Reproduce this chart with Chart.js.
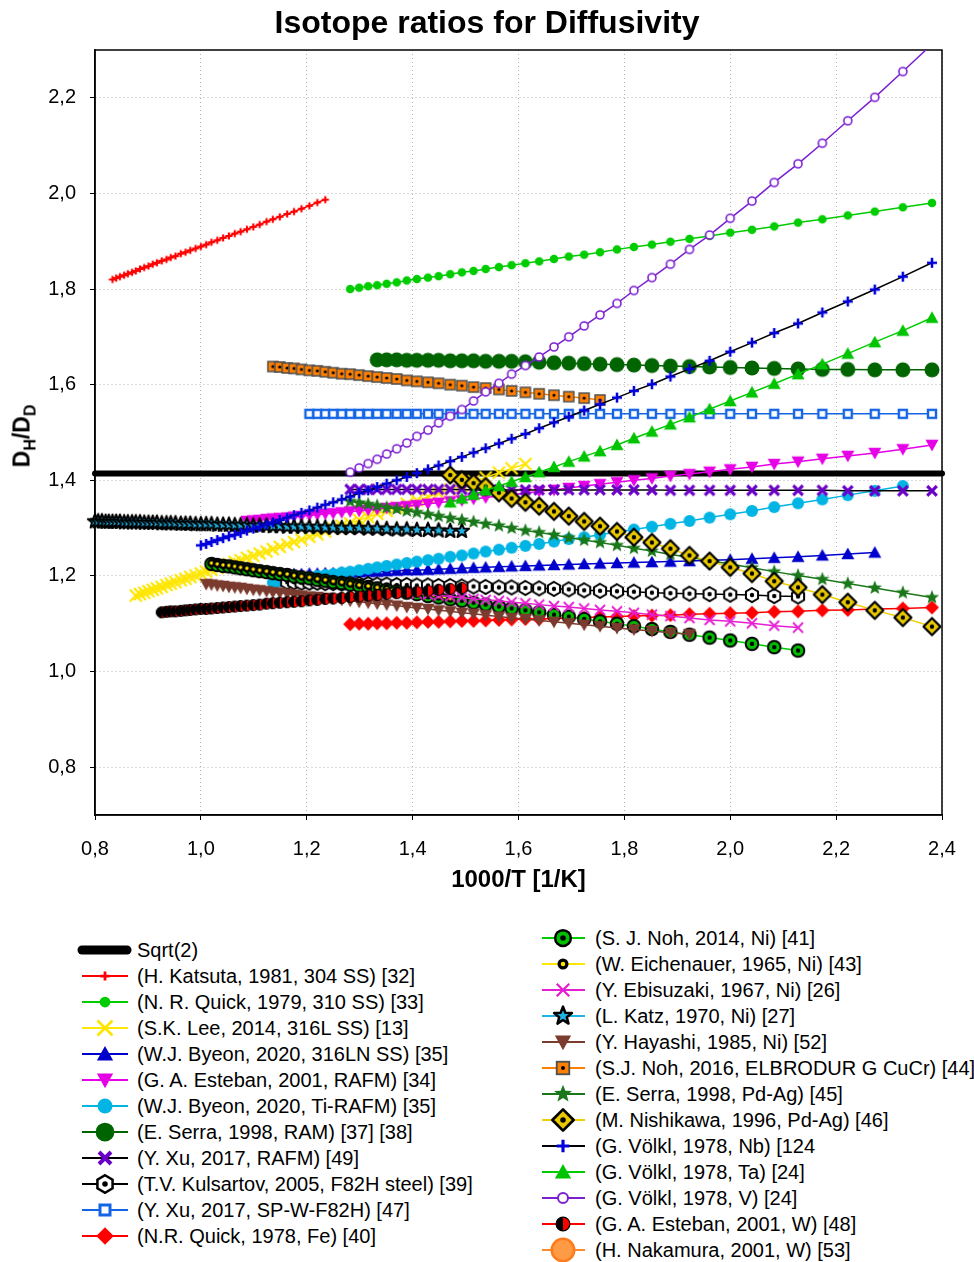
<!DOCTYPE html>
<html><head><meta charset="utf-8">
<script src="https://cdn.jsdelivr.net/npm/chart.js@4.4.1/dist/chart.umd.min.js"></script>
<style>
html,body{margin:0;padding:0;background:#fff;width:974px;height:1262px;overflow:hidden;font-family:Arial,"Liberation Sans",sans-serif;}
#wrap{position:relative;width:974px;height:1262px;}
#c{position:absolute;left:0;top:0;}
#title{position:absolute;left:0;width:974px;top:3px;height:38px;line-height:38px;text-align:center;font-weight:bold;font-size:32px;color:#000;white-space:nowrap;}
#ytitle{position:absolute;left:24px;top:436px;transform:translate(-50%,-50%) rotate(-90deg);font-weight:bold;font-size:23px;white-space:nowrap;color:#000;}
#ytitle sub{font-size:16px;vertical-align:-6px;}
.lg{position:absolute;height:26px;line-height:26px;font-size:20px;white-space:nowrap;color:#000;}
.lg canvas{position:absolute;left:0;top:0;}
.lg span{position:absolute;left:62px;top:0;}
</style></head>
<body><div id="wrap">
<canvas id="c" width="974" height="905"></canvas>
<div id="title">Isotope ratios for Diffusivity</div>
<div id="ytitle">D<sub>H</sub>/D<sub>D</sub></div>
<div id="legend"></div>
</div>
<script>
// ---------- axis ticks ----------
const xTicks = [0.8,1.0,1.2,1.4,1.6,1.8,2.0,2.2,2.4];
const yTicks = [0.8,1.0,1.2,1.4,1.6,1.8,2.0,2.2];

// ---------- series values ----------
const xSqrt2 = [0.8,2.4];
const ySqrt2 = [1.414,1.414];

const xKatsuta = [0.833,0.840,0.847,0.855,0.862,0.870,0.877,0.885,0.893,0.901,0.909,0.917,0.926,0.935,0.943,0.952,0.962,0.971,0.980,0.990,1.000,1.010,1.020,1.031,1.042,1.053,1.064,1.075,1.087,1.099,1.111,1.124,1.136,1.149,1.163,1.176,1.190,1.205,1.220,1.235];
const yKatsuta = [1.820,1.823,1.826,1.829,1.832,1.835,1.838,1.842,1.845,1.848,1.852,1.855,1.859,1.862,1.866,1.869,1.874,1.877,1.881,1.885,1.889,1.893,1.898,1.902,1.907,1.911,1.916,1.920,1.925,1.930,1.935,1.941,1.946,1.951,1.957,1.962,1.968,1.974,1.981,1.987];

const xQuick1979 = [1.282,1.299,1.316,1.333,1.351,1.370,1.389,1.408,1.429,1.449,1.471,1.493,1.515,1.538,1.563,1.587,1.613,1.639,1.667,1.695,1.724,1.754,1.786,1.818,1.852,1.887,1.923,1.961,2.000,2.041,2.083,2.128,2.174,2.222,2.273,2.326,2.381];
const yQuick1979 = [1.800,1.803,1.806,1.808,1.811,1.814,1.818,1.821,1.824,1.827,1.831,1.835,1.838,1.842,1.846,1.850,1.854,1.858,1.863,1.868,1.872,1.877,1.883,1.888,1.893,1.899,1.905,1.911,1.918,1.924,1.931,1.939,1.946,1.954,1.962,1.971,1.980];

const xLee = [0.877,0.885,0.893,0.901,0.909,0.917,0.926,0.935,0.943,0.952,0.962,0.971,0.980,0.990,1.000,1.010,1.020,1.031,1.042,1.053,1.064,1.075,1.087,1.099,1.111,1.124,1.136,1.149,1.163,1.176,1.190,1.205,1.220,1.235,1.250,1.266,1.282,1.299,1.316,1.333,1.351,1.370,1.389,1.408,1.429,1.449,1.471,1.493,1.515,1.538,1.563,1.587,1.613];
const yLee = [1.159,1.162,1.165,1.168,1.171,1.174,1.177,1.181,1.184,1.187,1.191,1.194,1.198,1.201,1.205,1.209,1.213,1.217,1.221,1.225,1.229,1.233,1.238,1.242,1.247,1.251,1.256,1.261,1.266,1.271,1.276,1.282,1.287,1.293,1.299,1.305,1.310,1.317,1.323,1.330,1.336,1.343,1.351,1.358,1.365,1.373,1.381,1.389,1.398,1.406,1.416,1.425,1.434];

const xByeonLN = [1.176,1.190,1.205,1.220,1.235,1.250,1.266,1.282,1.299,1.316,1.333,1.351,1.370,1.389,1.408,1.429,1.449,1.471,1.493,1.515,1.538,1.563,1.587,1.613,1.639,1.667,1.695,1.724,1.754,1.786,1.818,1.852,1.887,1.923,1.961,2.000,2.041,2.083,2.128,2.174,2.222,2.273];
const yByeonLN = [1.204,1.204,1.205,1.205,1.206,1.206,1.207,1.207,1.208,1.209,1.209,1.210,1.211,1.212,1.212,1.213,1.214,1.215,1.216,1.217,1.218,1.219,1.220,1.221,1.222,1.223,1.224,1.225,1.226,1.227,1.228,1.229,1.230,1.231,1.233,1.234,1.236,1.238,1.240,1.243,1.246,1.249];

const xEstebanRAFM = [1.087,1.099,1.111,1.124,1.136,1.149,1.163,1.176,1.190,1.205,1.220,1.235,1.250,1.266,1.282,1.299,1.316,1.333,1.351,1.370,1.389,1.408,1.429,1.449,1.471,1.493,1.515,1.538,1.563,1.587,1.613,1.639,1.667,1.695,1.724,1.754,1.786,1.818,1.852,1.887,1.923,1.961,2.000,2.041,2.083,2.128,2.174,2.222,2.273,2.326,2.381];
const yEstebanRAFM = [1.315,1.316,1.317,1.319,1.320,1.321,1.322,1.324,1.325,1.327,1.328,1.330,1.331,1.333,1.335,1.336,1.338,1.340,1.342,1.344,1.346,1.348,1.351,1.353,1.356,1.358,1.361,1.364,1.367,1.370,1.373,1.377,1.380,1.384,1.388,1.392,1.396,1.400,1.404,1.409,1.413,1.418,1.423,1.428,1.434,1.439,1.445,1.451,1.457,1.465,1.474];

const xByeonTi = [1.136,1.149,1.163,1.176,1.190,1.205,1.220,1.235,1.250,1.266,1.282,1.299,1.316,1.333,1.351,1.370,1.389,1.408,1.429,1.449,1.471,1.493,1.515,1.538,1.563,1.587,1.613,1.639,1.667,1.695,1.724,1.754,1.786,1.818,1.852,1.887,1.923,1.961,2.000,2.041,2.083,2.128,2.174,2.222,2.273,2.326];
const yByeonTi = [1.186,1.188,1.190,1.192,1.195,1.197,1.200,1.202,1.204,1.207,1.209,1.212,1.215,1.218,1.221,1.224,1.227,1.230,1.233,1.236,1.240,1.243,1.247,1.251,1.255,1.259,1.263,1.267,1.272,1.277,1.281,1.286,1.292,1.297,1.303,1.309,1.315,1.322,1.329,1.336,1.344,1.352,1.360,1.369,1.378,1.388];

const xSerraRAM = [1.333,1.351,1.370,1.389,1.408,1.429,1.449,1.471,1.493,1.515,1.538,1.563,1.587,1.613,1.639,1.667,1.695,1.724,1.754,1.786,1.818,1.852,1.887,1.923,1.961,2.000,2.041,2.083,2.128,2.174,2.222,2.273,2.326,2.381];
const ySerraRAM = [1.652,1.652,1.652,1.651,1.651,1.651,1.651,1.650,1.650,1.650,1.649,1.649,1.649,1.648,1.647,1.646,1.645,1.644,1.643,1.642,1.641,1.640,1.639,1.638,1.637,1.636,1.635,1.634,1.633,1.632,1.632,1.631,1.631,1.631];

const xXuRAFM = [1.282,1.299,1.316,1.333,1.351,1.370,1.389,1.408,1.429,1.449,1.471,1.493,1.515,1.538,1.563,1.587,1.613,1.639,1.667,1.695,1.724,1.754,1.786,1.818,1.852,1.887,1.923,1.961,2.000,2.041,2.083,2.128,2.174,2.222,2.273,2.326,2.381];
const yXuRAFM = [1.381,1.381,1.381,1.381,1.381,1.381,1.381,1.381,1.381,1.381,1.381,1.381,1.380,1.380,1.380,1.380,1.380,1.380,1.380,1.380,1.380,1.380,1.380,1.380,1.380,1.379,1.379,1.379,1.379,1.379,1.379,1.379,1.379,1.378,1.378,1.378,1.378];

const xKulsartov = [1.163,1.176,1.190,1.205,1.220,1.235,1.250,1.266,1.282,1.299,1.316,1.333,1.351,1.370,1.389,1.408,1.429,1.449,1.471,1.493,1.515,1.538,1.563,1.587,1.613,1.639,1.667,1.695,1.724,1.754,1.786,1.818,1.852,1.887,1.923,1.961,2.000,2.041,2.083,2.128];
const yKulsartov = [1.187,1.187,1.186,1.186,1.186,1.185,1.185,1.184,1.184,1.183,1.183,1.182,1.182,1.181,1.181,1.180,1.180,1.179,1.179,1.178,1.178,1.177,1.176,1.176,1.175,1.174,1.173,1.172,1.170,1.169,1.168,1.167,1.165,1.164,1.163,1.162,1.161,1.160,1.158,1.157];

const xXuSP = [1.205,1.220,1.235,1.250,1.266,1.282,1.299,1.316,1.333,1.351,1.370,1.389,1.408,1.429,1.449,1.471,1.493,1.515,1.538,1.563,1.587,1.613,1.639,1.667,1.695,1.724,1.754,1.786,1.818,1.852,1.887,1.923,1.961,2.000,2.041,2.083,2.128,2.174,2.222,2.273,2.326,2.381];
const yXuSP = [1.539,1.539,1.539,1.539,1.539,1.539,1.539,1.539,1.539,1.539,1.539,1.539,1.539,1.539,1.539,1.539,1.539,1.539,1.539,1.539,1.539,1.539,1.539,1.539,1.539,1.539,1.539,1.539,1.539,1.539,1.539,1.539,1.539,1.539,1.539,1.539,1.539,1.539,1.539,1.539,1.539,1.539];

const xQuickFe = [1.282,1.299,1.316,1.333,1.351,1.370,1.389,1.408,1.429,1.449,1.471,1.493,1.515,1.538,1.563,1.587,1.613,1.639,1.667,1.695,1.724,1.754,1.786,1.818,1.852,1.887,1.923,1.961,2.000,2.041,2.083,2.128,2.174,2.222,2.273,2.326,2.381];
const yQuickFe = [1.099,1.100,1.100,1.101,1.101,1.102,1.102,1.103,1.104,1.104,1.105,1.106,1.106,1.107,1.108,1.109,1.110,1.110,1.111,1.112,1.113,1.114,1.115,1.116,1.117,1.118,1.120,1.121,1.122,1.123,1.125,1.126,1.128,1.129,1.131,1.132,1.134];

const xNoh2014 = [1.020,1.031,1.042,1.053,1.064,1.075,1.087,1.099,1.111,1.124,1.136,1.149,1.163,1.176,1.190,1.205,1.220,1.235,1.250,1.266,1.282,1.299,1.316,1.333,1.351,1.370,1.389,1.408,1.429,1.449,1.471,1.493,1.515,1.538,1.563,1.587,1.613,1.639,1.667,1.695,1.724,1.754,1.786,1.818,1.852,1.887,1.923,1.961,2.000,2.041,2.083,2.128];
const yNoh2014 = [1.225,1.223,1.221,1.220,1.218,1.216,1.214,1.212,1.210,1.208,1.206,1.204,1.202,1.199,1.197,1.195,1.192,1.190,1.187,1.185,1.182,1.179,1.177,1.174,1.171,1.168,1.165,1.162,1.158,1.155,1.151,1.148,1.144,1.140,1.136,1.132,1.128,1.124,1.119,1.115,1.110,1.105,1.100,1.095,1.089,1.083,1.077,1.071,1.065,1.058,1.051,1.044];

const xEichenauer = [1.020,1.031,1.042,1.053,1.064,1.075,1.087,1.099,1.111,1.124,1.136,1.149,1.163,1.176,1.190,1.205,1.220,1.235,1.250,1.266,1.282,1.299,1.316,1.333,1.351,1.370,1.389,1.408,1.429,1.449,1.471];
const yEichenauer = [1.227,1.225,1.223,1.222,1.220,1.218,1.216,1.214,1.212,1.210,1.208,1.206,1.204,1.201,1.199,1.197,1.194,1.192,1.189,1.187,1.184,1.181,1.179,1.176,1.173,1.170,1.167,1.164,1.160,1.157,1.153];

const xEbisuzaki = [1.408,1.429,1.449,1.471,1.493,1.515,1.538,1.563,1.587,1.613,1.639,1.667,1.695,1.724,1.754,1.786,1.818,1.852,1.887,1.923,1.961,2.000,2.041,2.083,2.128];
const yEbisuzaki = [1.163,1.161,1.159,1.157,1.155,1.152,1.150,1.148,1.145,1.143,1.140,1.137,1.135,1.132,1.129,1.126,1.123,1.119,1.116,1.112,1.108,1.105,1.101,1.096,1.092];

const xKatz = [0.800,0.806,0.813,0.820,0.826,0.833,0.840,0.847,0.855,0.862,0.870,0.877,0.885,0.893,0.901,0.909,0.917,0.926,0.935,0.943,0.952,0.962,0.971,0.980,0.990,1.000,1.010,1.020,1.031,1.042,1.053,1.064,1.075,1.087,1.099,1.111,1.124,1.136,1.149,1.163,1.176,1.190,1.205,1.220,1.235,1.250,1.266,1.282,1.299,1.316,1.333,1.351,1.370,1.389,1.408,1.429,1.449,1.471,1.493];
const yKatz = [1.314,1.314,1.314,1.313,1.313,1.313,1.313,1.313,1.312,1.312,1.312,1.312,1.312,1.311,1.311,1.311,1.311,1.310,1.310,1.310,1.310,1.309,1.309,1.309,1.308,1.308,1.308,1.308,1.307,1.307,1.307,1.306,1.306,1.306,1.305,1.305,1.305,1.304,1.304,1.303,1.303,1.303,1.302,1.302,1.301,1.301,1.300,1.300,1.300,1.299,1.299,1.298,1.297,1.297,1.296,1.296,1.295,1.294,1.294];

const xHayashi = [1.010,1.020,1.031,1.042,1.053,1.064,1.075,1.087,1.099,1.111,1.124,1.136,1.149,1.163,1.176,1.190,1.205,1.220,1.235,1.250,1.266,1.282,1.299,1.316,1.333,1.351,1.370,1.389,1.408,1.429,1.449,1.471,1.493,1.515,1.538,1.563,1.587,1.613,1.639,1.667,1.695,1.724,1.754,1.786,1.818,1.852,1.887,1.923];
const yHayashi = [1.183,1.182,1.180,1.179,1.177,1.176,1.175,1.173,1.171,1.170,1.168,1.166,1.165,1.163,1.161,1.159,1.157,1.156,1.154,1.152,1.150,1.148,1.146,1.144,1.142,1.140,1.138,1.135,1.133,1.131,1.128,1.126,1.123,1.121,1.118,1.115,1.112,1.110,1.107,1.104,1.101,1.098,1.095,1.091,1.088,1.085,1.081,1.078];

const xNoh2016 = [1.136,1.149,1.163,1.176,1.190,1.205,1.220,1.235,1.250,1.266,1.282,1.299,1.316,1.333,1.351,1.370,1.389,1.408,1.429,1.449,1.471,1.493,1.515,1.538,1.563,1.587,1.613,1.639,1.667,1.695,1.724,1.754];
const yNoh2016 = [1.638,1.637,1.635,1.634,1.632,1.630,1.629,1.627,1.625,1.623,1.622,1.620,1.618,1.616,1.614,1.612,1.609,1.607,1.605,1.603,1.600,1.598,1.595,1.593,1.590,1.587,1.584,1.581,1.578,1.575,1.572,1.568];

const xSerraPdAg = [1.282,1.299,1.316,1.333,1.351,1.370,1.389,1.408,1.429,1.449,1.471,1.493,1.515,1.538,1.563,1.587,1.613,1.639,1.667,1.695,1.724,1.754,1.786,1.818,1.852,1.887,1.923,1.961,2.000,2.041,2.083,2.128,2.174,2.222,2.273,2.326,2.381];
const ySerraPdAg = [1.356,1.353,1.350,1.347,1.343,1.340,1.336,1.333,1.329,1.325,1.321,1.317,1.313,1.309,1.305,1.300,1.295,1.291,1.286,1.280,1.275,1.270,1.264,1.258,1.252,1.245,1.239,1.232,1.225,1.217,1.209,1.201,1.193,1.184,1.175,1.165,1.155];

const xNishikawa = [1.471,1.493,1.515,1.538,1.563,1.587,1.613,1.639,1.667,1.695,1.724,1.754,1.786,1.818,1.852,1.887,1.923,1.961,2.000,2.041,2.083,2.128,2.174,2.222,2.273,2.326,2.381];
const yNishikawa = [1.411,1.401,1.394,1.387,1.374,1.362,1.354,1.346,1.335,1.325,1.314,1.304,1.293,1.281,1.270,1.257,1.243,1.231,1.218,1.205,1.189,1.176,1.161,1.145,1.128,1.113,1.094];

const xVolklNb = [1.000,1.010,1.020,1.031,1.042,1.053,1.064,1.075,1.087,1.099,1.111,1.124,1.136,1.149,1.163,1.176,1.190,1.205,1.220,1.235,1.250,1.266,1.282,1.299,1.316,1.333,1.351,1.370,1.389,1.408,1.429,1.449,1.471,1.493,1.515,1.538,1.563,1.587,1.613,1.639,1.667,1.695,1.724,1.754,1.786,1.818,1.852,1.887,1.923,1.961,2.000,2.041,2.083,2.128,2.174,2.222,2.273,2.326,2.381];
const yVolklNb = [1.264,1.267,1.271,1.275,1.279,1.283,1.286,1.290,1.295,1.299,1.303,1.308,1.312,1.317,1.322,1.327,1.332,1.337,1.343,1.349,1.354,1.360,1.366,1.373,1.379,1.386,1.393,1.400,1.407,1.415,1.423,1.431,1.440,1.449,1.458,1.467,1.477,1.487,1.497,1.509,1.521,1.533,1.546,1.559,1.573,1.587,1.601,1.617,1.633,1.650,1.669,1.688,1.708,1.728,1.751,1.774,1.799,1.826,1.855];

const xVolklTa = [1.471,1.493,1.515,1.538,1.563,1.587,1.613,1.639,1.667,1.695,1.724,1.754,1.786,1.818,1.852,1.887,1.923,1.961,2.000,2.041,2.083,2.128,2.174,2.222,2.273,2.326,2.381];
const yVolklTa = [1.354,1.362,1.370,1.379,1.388,1.397,1.407,1.417,1.428,1.439,1.450,1.461,1.474,1.488,1.502,1.517,1.532,1.549,1.566,1.584,1.602,1.622,1.643,1.665,1.689,1.713,1.740];

const xVolklV = [1.282,1.299,1.316,1.333,1.351,1.370,1.389,1.408,1.429,1.449,1.471,1.493,1.515,1.538,1.563,1.587,1.613,1.639,1.667,1.695,1.724,1.754,1.786,1.818,1.852,1.887,1.923,1.961,2.000,2.041,2.083,2.128,2.174,2.222,2.273,2.326,2.381];
const yVolklV = [1.417,1.426,1.435,1.444,1.455,1.466,1.478,1.492,1.505,1.520,1.534,1.548,1.566,1.585,1.603,1.622,1.640,1.658,1.679,1.700,1.723,1.746,1.770,1.797,1.824,1.852,1.883,1.913,1.948,1.984,2.023,2.062,2.105,2.152,2.201,2.255,2.312];

const xEstebanW = [0.926,0.935,0.943,0.952,0.962,0.971,0.980,0.990,1.000,1.010,1.020,1.031,1.042,1.053,1.064,1.075,1.087,1.099,1.111,1.124,1.136,1.149,1.163,1.176,1.190,1.205,1.220,1.235,1.250,1.266,1.282,1.299,1.316,1.333,1.351,1.370,1.389,1.408,1.429,1.449,1.471,1.493];
const yEstebanW = [1.124,1.125,1.126,1.126,1.127,1.128,1.129,1.130,1.131,1.131,1.132,1.133,1.134,1.135,1.136,1.137,1.138,1.139,1.140,1.142,1.143,1.144,1.145,1.146,1.147,1.149,1.150,1.152,1.153,1.154,1.156,1.157,1.159,1.160,1.162,1.164,1.165,1.167,1.169,1.171,1.173,1.175];

const xNakamura = [];
const yNakamura = [];

// ---------- marker glyphs ----------
function circ(g,r,c){g.beginPath();g.arc(0,0,r,0,Math.PI*2);g.fillStyle=c;g.fill();}
function dot(g,r,c){circ(g,r,c);}
function xmark(g,a,c,w){g.strokeStyle=c;g.lineWidth=w;g.lineCap='butt';g.beginPath();g.moveTo(-a,-a);g.lineTo(a,a);g.moveTo(a,-a);g.lineTo(-a,a);g.stroke();}
function plus(g,a,c,w){g.strokeStyle=c;g.lineWidth=w;g.beginPath();g.moveTo(-a,0);g.lineTo(a,0);g.moveTo(0,-a);g.lineTo(0,a);g.stroke();}
function tri(g,r,c,down){const k=down?-1:1;g.beginPath();g.moveTo(0,-r*k);g.lineTo(r,0.8*r*k);g.lineTo(-r,0.8*r*k);g.closePath();g.fillStyle=c;g.fill();}
function poly(g,n,R){g.beginPath();for(let i=0;i<n;i++){const a=-Math.PI/2+i*2*Math.PI/n;g.lineTo(R*Math.cos(a),R*Math.sin(a));}g.closePath();}
function star(g,R,r){g.beginPath();for(let i=0;i<10;i++){const a=-Math.PI/2+i*Math.PI/5;const q=i%2?r:R;g.lineTo(q*Math.cos(a),q*Math.sin(a));}g.closePath();}
const MK = {
  none:(g,s)=>{},
  katsuta:(g,s)=>{plus(g,3.6*s,'#ff0000',2.2*s);},
  quick79:(g,s)=>{circ(g,4.3*s,'#00cc00');},
  lee:(g,s)=>{xmark(g,6*s,'#ffe600',2.2*s);},
  byeonLN:(g,s)=>{tri(g,6.5*s,'#0000cc',false);},
  estebanRAFM:(g,s)=>{tri(g,6.5*s,'#e600e6',true);},
  byeonTi:(g,s)=>{circ(g,6*s,'#00b4e4');},
  serraRAM:(g,s)=>{circ(g,7.5*s,'#006400');},
  xuRAFM:(g,s)=>{xmark(g,4.8*s,'#6a00c8',3.2*s);},
  kuls:(g,s)=>{poly(g,6,7*s);g.fillStyle='#fff';g.fill();g.strokeStyle='#000';g.lineWidth=2*s;g.stroke();dot(g,2.2*s,'#000');},
  xuSP:(g,s)=>{const h=4*s;g.fillStyle='#fff';g.fillRect(-h,-h,2*h,2*h);g.strokeStyle='#1464e6';g.lineWidth=2.4*s;g.strokeRect(-h,-h,2*h,2*h);},
  quickFe:(g,s)=>{poly(g,4,7*s);g.fillStyle='#ff0000';g.fill();},
  noh14:(g,s)=>{g.beginPath();g.arc(0,0,6.3*s,0,Math.PI*2);g.fillStyle='#00c000';g.fill();g.strokeStyle='#000';g.lineWidth=2*s;g.stroke();dot(g,2.2*s,'#000');},
  eich:(g,s)=>{dot(g,4.4*s,'#000');dot(g,1.8*s,'#ffe600');},
  ebis:(g,s)=>{xmark(g,5*s,'#e61ed2',1.8*s);},
  katz:(g,s)=>{star(g,7.5*s,3.2*s);g.fillStyle='#20b4e6';g.fill();g.strokeStyle='#000';g.lineJoin='round';g.lineWidth=2*s;g.stroke();},
  hayashi:(g,s)=>{tri(g,6.5*s,'#7b3b2e',true);},
  noh16:(g,s)=>{const h=5*s;g.fillStyle='#ff7f00';g.fillRect(-h,-h,2*h,2*h);g.strokeStyle='#505050';g.lineWidth=1.5*s;g.strokeRect(-h,-h,2*h,2*h);dot(g,1.6*s,'#000');},
  serraPd:(g,s)=>{star(g,7.5*s,3.2*s);g.fillStyle='#1a781a';g.fill();},
  nishi:(g,s)=>{poly(g,4,8.5*s);g.fillStyle='#e8c800';g.fill();g.strokeStyle='#000';g.lineJoin='round';g.lineWidth=2.2*s;g.stroke();dot(g,2.2*s,'#000');},
  nb:(g,s)=>{plus(g,5*s,'#0000dd',2.5*s);},
  ta:(g,s)=>{tri(g,6.5*s,'#00c400',false);},
  v:(g,s)=>{g.beginPath();g.arc(0,0,4*s,0,Math.PI*2);g.fillStyle='#fff';g.fill();g.strokeStyle='#7a1fd2';g.lineWidth=1.6*s;g.stroke();},
  estW:(g,s)=>{const r=5.5*s;circ(g,r,'#ff0000');g.beginPath();g.arc(0,0,r,Math.PI/2,Math.PI*1.5);g.closePath();g.fillStyle='#000';g.fill();g.beginPath();g.arc(0,0,r,0,Math.PI*2);g.strokeStyle='#000';g.lineWidth=1*s;g.stroke();},
  naka:(g,s)=>{g.beginPath();g.arc(0,0,9*s,0,Math.PI*2);g.fillStyle='#ff9a45';g.fill();g.strokeStyle='#ff7a1a';g.lineWidth=2*s;g.stroke();}
};
function markerCanvas(key,s){const size=Math.ceil(26*s);const c=document.createElement('canvas');c.width=c.height=size;const g=c.getContext('2d');g.translate(size/2,size/2);MK[key](g,s);return c;}

// ---------- series table ----------
const series = [
  {label:'Sqrt(2)', x:xSqrt2, y:ySqrt2, line:'#000000', mk:'none', w:6},
  {label:'(H. Katsuta, 1981, 304 SS) [32]', x:xKatsuta, y:yKatsuta, line:'#ff0000', mk:'katsuta'},
  {label:'(N. R. Quick, 1979, 310 SS) [33]', x:xQuick1979, y:yQuick1979, line:'#00cc00', mk:'quick79'},
  {label:'(S.K. Lee, 2014, 316L SS) [13]', x:xLee, y:yLee, line:'#ffe600', mk:'lee'},
  {label:'(W.J. Byeon, 2020, 316LN SS) [35]', x:xByeonLN, y:yByeonLN, line:'#0000cc', mk:'byeonLN'},
  {label:'(G. A. Esteban, 2001, RAFM) [34]', x:xEstebanRAFM, y:yEstebanRAFM, line:'#e600e6', mk:'estebanRAFM'},
  {label:'(W.J. Byeon, 2020, Ti-RAFM) [35]', x:xByeonTi, y:yByeonTi, line:'#00b4e4', mk:'byeonTi'},
  {label:'(E. Serra, 1998, RAM) [37] [38]', x:xSerraRAM, y:ySerraRAM, line:'#006400', mk:'serraRAM'},
  {label:'(Y. Xu, 2017, RAFM) [49]', x:xXuRAFM, y:yXuRAFM, line:'#000000', mk:'xuRAFM'},
  {label:'(T.V. Kulsartov, 2005, F82H steel) [39]', x:xKulsartov, y:yKulsartov, line:'#000000', mk:'kuls'},
  {label:'(Y. Xu, 2017, SP-W-F82H) [47]', x:xXuSP, y:yXuSP, line:'#1464e6', mk:'xuSP'},
  {label:'(N.R. Quick, 1978, Fe) [40]', x:xQuickFe, y:yQuickFe, line:'#ff0000', mk:'quickFe'},
  {label:'(S. J. Noh, 2014, Ni) [41]', x:xNoh2014, y:yNoh2014, line:'#00cc00', mk:'noh14'},
  {label:'(W. Eichenauer, 1965, Ni) [43]', x:xEichenauer, y:yEichenauer, line:'#ffe600', mk:'eich'},
  {label:'(Y. Ebisuzaki, 1967, Ni) [26]', x:xEbisuzaki, y:yEbisuzaki, line:'#e61ed2', mk:'ebis'},
  {label:'(L. Katz, 1970, Ni) [27]', x:xKatz, y:yKatz, line:'#20b4e6', mk:'katz'},
  {label:'(Y. Hayashi, 1985, Ni) [52]', x:xHayashi, y:yHayashi, line:'#7b3b2e', mk:'hayashi'},
  {label:'(S.J. Noh, 2016, ELBRODUR G CuCr) [44]', x:xNoh2016, y:yNoh2016, line:'#ff8000', mk:'noh16'},
  {label:'(E. Serra, 1998, Pd-Ag) [45]', x:xSerraPdAg, y:ySerraPdAg, line:'#1a781a', mk:'serraPd'},
  {label:'(M. Nishikawa, 1996, Pd-Ag) [46]', x:xNishikawa, y:yNishikawa, line:'#f0d000', mk:'nishi'},
  {label:'(G. Völkl, 1978, Nb) [124', x:xVolklNb, y:yVolklNb, line:'#000000', mk:'nb'},
  {label:'(G. Völkl, 1978, Ta) [24]', x:xVolklTa, y:yVolklTa, line:'#00cc00', mk:'ta'},
  {label:'(G. Völkl, 1978, V) [24]', x:xVolklV, y:yVolklV, line:'#7a1fd2', mk:'v'},
  {label:'(G. A. Esteban, 2001, W) [48]', x:xEstebanW, y:yEstebanW, line:'#ff0000', mk:'estW'},
  {label:'(H. Nakamura, 2001, W) [53]', x:xNakamura, y:yNakamura, line:'#ff8a2a', mk:'naka'}
];

const FONT = 'Arial, "Liberation Sans", sans-serif';
const datasets = series.map((s,i)=>({
  label:s.label,
  data:s.x.map((xv,j)=>({x:xv,y:s.y[j]})),
  showLine:true,
  borderColor:s.line,
  backgroundColor:s.line,
  borderWidth:s.w||1.5,
  borderCapStyle:s.w?'round':'butt',
  pointStyle:s.mk==='none'?'circle':markerCanvas(s.mk,1),
  pointRadius:s.mk==='none'?0:4,
  pointHoverRadius:s.mk==='none'?0:4,
  tension:0,
  order:-i,
  clip:{left:10,right:10,top:0,bottom:10}
}));

const frame = {
  id:'frame',
  beforeDatasetsDraw(chart){
    const {ctx,chartArea:a}=chart;
    ctx.save();ctx.strokeStyle='#000';ctx.lineWidth=1.5;
    ctx.strokeRect(a.left,a.top,a.right-a.left,a.bottom-a.top);
    ctx.restore();
  }
};
const fmt = v => Number(v).toFixed(1).replace('.',',');

new Chart(document.getElementById('c'),{
  type:'scatter',
  data:{datasets},
  options:{
    responsive:false, animation:false, events:[],
    layout:{padding:{left:0,right:32,top:50,bottom:0}},
    plugins:{legend:{display:false}, tooltip:{enabled:false}, title:{display:false}},
    scales:{
      x:{type:'linear',min:0.8,max:2.4,
        afterBuildTicks:s=>{s.ticks=xTicks.map(v=>({value:v}));},
        afterFit:s=>{s.height=90;},
        ticks:{color:'#000',font:{family:FONT,size:20},padding:17,maxRotation:0,autoSkip:false,callback:v=>fmt(v)},
        grid:{color:'#b4b4b4',lineWidth:1,drawTicks:true,tickLength:5,tickColor:'#000'},
        border:{display:true,color:'#000',width:1.5,dash:[1,3]},
        title:{display:true,text:'1000/T [1/K]',color:'#000',font:{family:FONT,size:24,weight:'bold',lineHeight:1.2},padding:{top:0,bottom:10}}
      },
      y:{type:'linear',min:0.7,max:2.3,
        afterBuildTicks:s=>{s.ticks=yTicks.map(v=>({value:v}));},
        afterFit:s=>{s.width=95;},
        ticks:{color:'#000',font:{family:FONT,size:20},padding:14,autoSkip:false,callback:v=>fmt(v)},
        grid:{color:'#b4b4b4',lineWidth:1,drawTicks:true,tickLength:5,tickColor:'#000'},
        border:{display:true,color:'#000',width:1.5,dash:[1,3]}
      }
    }
  },
  plugins:[frame]
});

// ---------- HTML legend ----------
const legend = document.getElementById('legend');
series.forEach((s,i)=>{
  const left = i<12;
  const row = left? i : i-12;
  const cy = left? 950 + row*26 : 937.5 + row*26;
  const d = document.createElement('div');
  d.className='lg';
  d.style.left = (left?75:533)+'px';
  d.style.top = (cy-13)+'px';
  const c = document.createElement('canvas');
  c.width=60;c.height=26;
  const g=c.getContext('2d');
  g.strokeStyle=s.line;
  if(s.w){g.lineWidth=9;g.lineCap='round';g.beginPath();g.moveTo(7,13);g.lineTo(52,13);g.stroke();}
  else{g.lineWidth=1.8;g.beginPath();g.moveTo(left?7:9,13);g.lineTo(left?53:52,13);g.stroke();}
  g.save();g.translate(30,13);MK[s.mk](g,1.25);g.restore();
  const t=document.createElement('span');
  t.textContent=s.label;
  d.appendChild(c);d.appendChild(t);
  legend.appendChild(d);
});
</script>
</body></html>
